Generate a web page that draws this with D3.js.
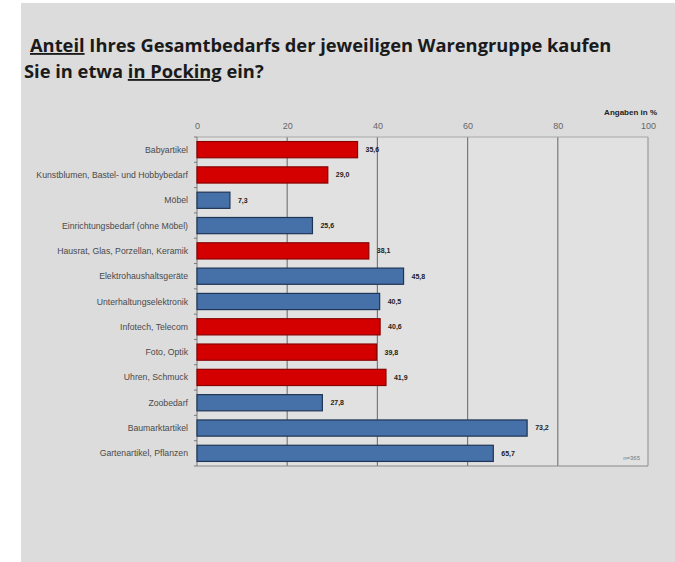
<!DOCTYPE html>
<html lang="de">
<head>
    <meta charset="UTF-8">
    <title>Anteil Gesamtbedarf Pocking</title>
    <style>
        body { margin: 0; background: #fff; }
        .cat { font: 8.7px "Liberation Sans", sans-serif; fill: #4a4a4a; }
        .val { font: bold 7px "Liberation Sans", sans-serif; fill: #222; }
        .tick text { font: 9px "Liberation Sans", sans-serif; fill: #666; }
        .title { font-family: "Open Sans", sans-serif; font-weight: bold; fill: #1a1a1a; }
    </style>
    <script src="https://d3js.org/d3.v7.min.js"></script>
</head>
<body>
<script>
    const width = 675;
    const height = 562;

    // data
    const categories = [
        "Babyartikel",
        "Kunstblumen, Bastel- und Hobbybedarf",
        "Möbel",
        "Einrichtungsbedarf (ohne Möbel)",
        "Hausrat, Glas, Porzellan, Keramik",
        "Elektrohaushaltsgeräte",
        "Unterhaltungselektronik",
        "Infotech, Telecom",
        "Foto, Optik",
        "Uhren, Schmuck",
        "Zoobedarf",
        "Baumarktartikel",
        "Gartenartikel, Pflanzen"
    ];
    const values = [35.6, 29.0, 7.3, 25.6, 38.1, 45.8, 40.5, 40.6, 39.8, 41.9, 27.8, 73.2, 65.7];
    const groups = ["r", "r", "b", "b", "r", "b", "b", "r", "r", "r", "b", "b", "b"];
    const ticks = [0, 20, 40, 60, 80, 100];

    const fillColor = { r: "#d40000", b: "#4670a8" };
    const strokeColor = { r: "#8a0000", b: "#1f3555" };

    const svg = d3.select("body").append("svg")
        .attr("width", width)
        .attr("height", height);

    // gray panel
    svg.append("rect")
        .attr("x", 21).attr("y", 3)
        .attr("width", width - 21).attr("height", height - 3)
        .attr("fill", "#dcdcdc");

    // title
    const title = svg.append("text").attr("class", "title");
    const l1 = title.append("tspan").attr("x", 30).attr("y", 52);
    l1.append("tspan").attr("text-decoration", "underline").text("Anteil");
    l1.append("tspan").text(" Ihres Gesamtbedarfs der jeweiligen Warengruppe kaufen");
    const l2 = title.append("tspan").attr("x", 24).attr("y", 78);
    l2.append("tspan").text("Sie in etwa ");
    l2.append("tspan").attr("text-decoration", "underline").text("in Pocking");
    l2.append("tspan").text(" ein?");

    // fit title width to the picture
    title.style("font-size", "18px");
    const w = l1.node().getComputedTextLength();
    title.style("font-size", (18 * 582 / w) + "px");

    const pL = 197, pR = 648, pT = 137, pB = 466;

    const x = d3.scaleLinear().domain([0, 100]).range([pL, pR]);
    const y = d3.scaleBand().domain(categories).range([pT, pB]).paddingInner(0.36).paddingOuter(0.18);

    // plot background
    svg.append("rect")
        .attr("x", pL).attr("y", pT)
        .attr("width", pR - pL).attr("height", pB - pT)
        .attr("fill", "#e1e1e1");

    // grid lines
    svg.append("g").selectAll("line")
        .data(ticks.slice(1))
        .join("line")
        .attr("x1", d => x(d)).attr("x2", d => x(d))
        .attr("y1", pT).attr("y2", pB)
        .attr("stroke", d => d === 100 ? "#9a9a9a" : "#7a7a7a")
        .attr("stroke-width", 1.2);

    svg.append("line")
        .attr("x1", pL).attr("x2", pR)
        .attr("y1", pT).attr("y2", pT)
        .attr("stroke", "#a8a8a8");
    svg.append("line")
        .attr("x1", pL).attr("x2", pR)
        .attr("y1", pB).attr("y2", pB)
        .attr("stroke", "#8a8a8a");

    // top axis labels
    const xAxis = d3.axisTop(x).tickValues(ticks).tickSize(0).tickPadding(8);
    const gx = svg.append("g").attr("transform", `translate(0,${pT})`).call(xAxis);
    gx.select(".domain").remove();

    // left axis with small ticks at band edges
    svg.append("line")
        .attr("x1", pL).attr("x2", pL)
        .attr("y1", pT).attr("y2", pB)
        .attr("stroke", "#7a7a7a");
    svg.append("g").selectAll("line")
        .data(d3.range(categories.length + 1))
        .join("line")
        .attr("x1", pL - 3).attr("x2", pL)
        .attr("y1", i => pT + i * (pB - pT) / categories.length)
        .attr("y2", i => pT + i * (pB - pT) / categories.length)
        .attr("stroke", "#7a7a7a");

    // bars
    svg.append("g").selectAll("rect")
        .data(categories)
        .join("rect")
        .attr("x", x(0))
        .attr("y", d => y(d))
        .attr("width", (d, i) => x(values[i]) - x(0))
        .attr("height", y.bandwidth())
        .attr("fill", (d, i) => fillColor[groups[i]])
        .attr("stroke", (d, i) => strokeColor[groups[i]])
        .attr("stroke-width", 1.2);

    // category labels
    svg.append("g").selectAll("text")
        .data(categories)
        .join("text")
        .attr("class", "cat")
        .attr("x", pL - 9)
        .attr("y", d => y(d) + y.bandwidth() / 2)
        .attr("dy", "0.35em")
        .attr("text-anchor", "end")
        .text(d => d);

    // value labels
    const fmt = v => d3.format(".1f")(v).replace(".", ",");
    svg.append("g").selectAll("text")
        .data(categories)
        .join("text")
        .attr("class", "val")
        .attr("x", (d, i) => x(values[i]) + 8)
        .attr("y", d => y(d) + y.bandwidth() / 2)
        .attr("dy", "0.35em")
        .text((d, i) => fmt(values[i]));

    svg.append("text")
        .attr("x", 657).attr("y", 115)
        .attr("text-anchor", "end")
        .style("font", "bold 8px 'Liberation Sans', sans-serif")
        .attr("fill", "#222")
        .text("Angaben in %");

    svg.append("text")
        .attr("x", 640).attr("y", 460)
        .attr("text-anchor", "end")
        .style("font", "6px 'Liberation Sans', sans-serif")
        .attr("fill", "#777")
        .text("n=365");
</script>
</body>
</html>
